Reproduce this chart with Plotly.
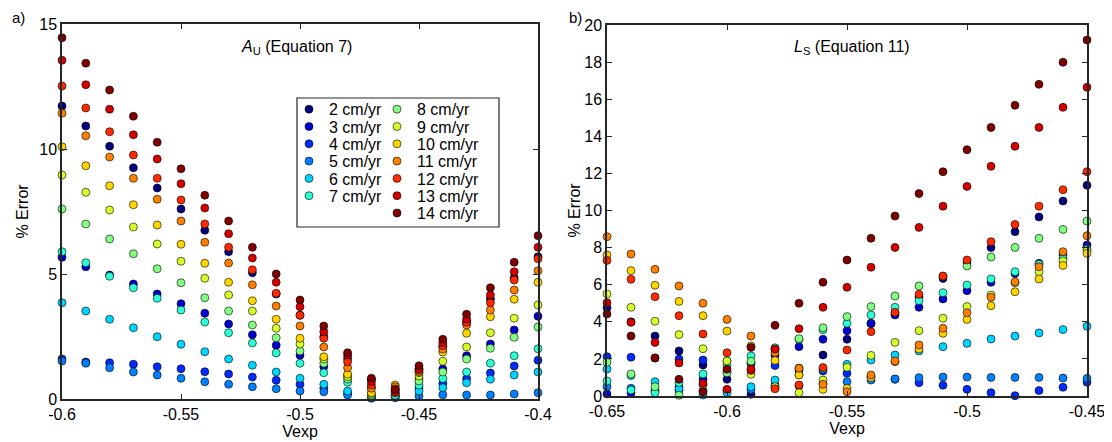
import plotly.graph_objects as go
from plotly.subplots import make_subplots

# plate speed of each series (cm/yr)
speeds = [2, 3, 4, 5, 6, 7, 8, 9, 10, 11, 12, 13, 14]

# Vexp sample points for each panel
vexp_a = [-0.60, -0.59, -0.58, -0.57, -0.56, -0.55, -0.54, -0.53, -0.52, -0.51, -0.50,
          -0.49, -0.48, -0.47, -0.46, -0.45, -0.44, -0.43, -0.42, -0.41, -0.40]
vexp_b = [-0.65, -0.64, -0.63, -0.62, -0.61, -0.60, -0.59, -0.58, -0.57, -0.56, -0.55,
          -0.54, -0.53, -0.52, -0.51, -0.50, -0.49, -0.48, -0.47, -0.46, -0.45]

# panel a: % error of A_U (Equation 7), one list per speed
a2 = [11.72, 10.92, 10.11, 9.25, 8.44, 7.60, 6.75, 5.89, 5.05, 4.20, 3.35, 2.50, 1.62, 0.78, 0.20, 1.20, 2.10, 3.07, 4.00, 4.85, 5.69]
a3 = [5.67, 5.29, 4.96, 4.60, 4.20, 3.81, 3.43, 3.00, 2.57, 2.15, 1.75, 1.29, 0.95, 0.45, 0.15, 0.80, 1.20, 1.73, 2.20, 2.76, 3.31]
a4 = [1.60, 1.48, 1.45, 1.39, 1.29, 1.21, 1.09, 1.00, 0.88, 0.75, 0.59, 0.43, 0.23, 0.05, 0.10, 0.43, 0.62, 0.81, 1.04, 1.32, 1.55]
a5 = [1.52, 1.43, 1.25, 1.08, 0.96, 0.83, 0.69, 0.59, 0.49, 0.41, 0.32, 0.29, 0.16, 0.03, 0.05, 0.12, 0.17, 0.16, 0.16, 0.20, 0.25]
a6 = [3.85, 3.52, 3.19, 2.85, 2.49, 2.19, 1.89, 1.60, 1.35, 1.08, 0.83, 0.59, 0.32, 0.08, 0.08, 0.32, 0.45, 0.65, 0.79, 0.96, 1.08]
a7 = [5.89, 5.45, 4.91, 4.45, 4.03, 3.56, 3.08, 2.65, 2.24, 1.84, 1.43, 1.05, 0.67, 0.12, 0.15, 0.56, 0.82, 1.08, 1.43, 1.73, 2.01]
a8 = [7.60, 7.00, 6.40, 5.81, 5.21, 4.65, 4.05, 3.52, 2.96, 2.45, 1.92, 1.43, 0.80, 0.15, 0.30, 0.72, 1.08, 1.60, 2.03, 2.47, 2.88]
a9 = [8.96, 8.27, 7.56, 6.88, 6.20, 5.51, 4.83, 4.16, 3.52, 2.83, 2.20, 1.60, 0.89, 0.22, 0.40, 0.92, 1.51, 2.08, 2.65, 3.23, 3.76]
a10 = [10.09, 9.33, 8.53, 7.77, 6.96, 6.19, 5.43, 4.67, 3.93, 3.19, 2.43, 1.69, 0.99, 0.25, 0.56, 1.05, 1.88, 2.63, 3.29, 3.99, 4.67]
a11 = [11.43, 10.53, 9.68, 8.83, 7.99, 7.12, 6.27, 5.44, 4.57, 3.72, 2.92, 2.08, 1.25, 0.43, 0.49, 1.10, 2.00, 2.96, 3.56, 4.36, 5.13]
a12 = [12.52, 11.64, 10.69, 9.76, 8.83, 7.96, 7.00, 6.07, 5.17, 4.23, 3.35, 2.43, 1.49, 0.56, 0.40, 1.16, 2.13, 3.07, 3.85, 4.76, 5.61]
a13 = [13.55, 12.57, 11.59, 10.57, 9.60, 8.61, 7.64, 6.61, 5.64, 4.67, 3.69, 2.69, 1.76, 0.69, 0.25, 1.22, 2.25, 3.20, 4.16, 5.09, 6.07]
a14 = [14.45, 13.43, 12.36, 11.31, 10.27, 9.21, 8.15, 7.12, 6.07, 5.00, 3.96, 2.92, 1.85, 0.83, 0.36, 1.33, 2.39, 3.39, 4.45, 5.47, 6.53]

# panel b: % error of L_S (Equation 11), one list per speed
b2 = [4.76, 4.00, 3.23, 2.43, 1.67, 0.90, 0.09, 0.59, 1.38, 2.21, 3.06, 3.90, 4.45, 5.35, 6.34, 7.20, 8.00, 8.86, 9.65, 10.51, 11.36]
b3 = [0.11, 0.16, 0.25, 0.50, 0.90, 1.30, 1.75, 2.20, 2.66, 3.06, 3.52, 3.92, 4.37, 4.78, 5.23, 5.68, 6.13, 6.60, 7.15, 7.60, 8.14]
b4 = [2.12, 2.09, 2.05, 1.99, 1.94, 1.88, 1.78, 1.64, 1.50, 1.35, 1.22, 1.05, 0.90, 0.72, 0.58, 0.36, 0.18, 0.02, 0.29, 0.47, 0.74]
b5 = [0.50, 0.42, 0.35, 0.30, 0.28, 0.30, 0.35, 0.45, 0.55, 0.67, 0.77, 0.86, 0.92, 0.99, 1.02, 1.02, 1.00, 1.00, 1.00, 0.97, 0.95]
b6 = [1.46, 1.10, 0.77, 0.38, 0.05, 0.18, 0.50, 0.86, 1.15, 1.45, 1.71, 1.94, 2.21, 2.43, 2.66, 2.84, 3.07, 3.23, 3.40, 3.58, 3.76]
b7 = [0.81, 0.32, 0.18, 0.72, 1.19, 1.64, 2.16, 2.60, 3.05, 3.57, 3.92, 4.37, 4.78, 5.14, 5.57, 5.98, 6.31, 6.70, 7.10, 7.42, 7.92]
b8 = [1.82, 1.19, 0.50, 0.04, 0.60, 1.25, 1.87, 2.50, 3.09, 3.68, 4.28, 4.82, 5.39, 5.93, 6.45, 7.01, 7.49, 8.01, 8.50, 8.98, 9.43]
b9 = [5.50, 4.78, 4.03, 3.31, 2.55, 1.89, 1.17, 0.50, 0.18, 0.86, 1.55, 2.19, 2.89, 3.52, 4.19, 4.82, 5.44, 6.10, 6.70, 7.28, 7.83]
b10 = [7.60, 6.76, 5.97, 5.10, 4.33, 3.50, 2.70, 1.92, 1.13, 0.36, 0.41, 1.00, 1.85, 2.54, 3.38, 4.13, 4.87, 5.62, 6.31, 7.04, 7.69]
b11 = [8.59, 7.65, 6.83, 5.93, 5.00, 4.13, 3.23, 2.34, 1.49, 0.63, 0.23, 1.13, 1.89, 2.75, 3.65, 4.49, 5.32, 6.16, 6.97, 7.78, 8.64]
b12 = [7.31, 6.29, 5.35, 4.33, 3.34, 2.33, 1.38, 0.39, 0.59, 1.53, 2.48, 3.47, 4.51, 5.48, 6.47, 7.33, 8.32, 9.25, 10.23, 11.12, 12.09]
b13 = [5.03, 3.97, 2.89, 1.78, 0.68, 0.36, 1.46, 2.53, 3.63, 4.78, 5.86, 6.94, 8.01, 9.09, 10.23, 11.30, 12.38, 13.46, 14.48, 15.56, 16.64]
b14 = [4.42, 3.23, 2.05, 0.90, 0.23, 1.44, 2.62, 3.81, 5.00, 6.13, 7.33, 8.50, 9.70, 10.91, 12.09, 13.28, 14.48, 15.67, 16.80, 17.99, 19.19]

err_a = [a2, a3, a4, a5, a6, a7, a8, a9, a10, a11, a12, a13, a14]
err_b = [b2, b3, b4, b5, b6, b7, b8, b9, b10, b11, b12, b13, b14]


def jet(v):
    # matlab style jet colour for a speed between 2 and 14
    t = (v - 2) / 12.0
    def ch(c):
        return int(round(255 * min(max(1.5 - abs(4 * t - c), 0), 1)))
    return "rgb(%d,%d,%d)" % (ch(3), ch(2), ch(1))


# positions below are screen pixels; plot area runs 62..1087 across, 24..399 down
def px_x(p):
    return (p - 62) / 1025.0


def px_y(p):
    return (399 - p) / 375.0


FONT = "Liberation Sans, Arial, Helvetica, sans-serif"
AX = "#262626"
PAGE_PAD = 8  # the page body keeps its default 8px margin

fig = make_subplots(rows=1, cols=2)

# one small legend per entry so the rows can sit as tight as in the figure
legend_layout = {}
for i, (s, ya, yb) in enumerate(zip(speeds, err_a, err_b)):
    lg = "legend" if i == 0 else "legend%d" % (i + 1)
    col, row = (0, i) if s <= 7 else (1, i - 6)
    legend_layout[lg] = dict(x=px_x(289 + 88 * col), y=px_y(109.3 + 17.3 * row),
                             xanchor="left", yanchor="middle", bgcolor="rgba(0,0,0,0)",
                             borderwidth=0, font=dict(size=16))
    mk = dict(size=8, color=jet(s), line=dict(color="black", width=0.6))
    fig.add_trace(go.Scatter(x=vexp_a, y=ya, mode="markers", marker=mk, cliponaxis=False,
                             name="%d cm/yr" % s, legend=lg),
                  row=1, col=1)
    fig.add_trace(go.Scatter(x=vexp_b, y=yb, mode="markers", marker=mk, cliponaxis=False,
                             name="%d cm/yr" % s, showlegend=False),
                  row=1, col=2)

axis_style = dict(showline=True, linecolor=AX, linewidth=1.5, mirror="ticks", ticks="inside",
                  ticklen=5, tickwidth=1.2, tickcolor=AX, showgrid=False, zeroline=False,
                  automargin=False, tickfont=dict(size=16, color="black"))

fig.update_xaxes(**axis_style)
fig.update_yaxes(**axis_style)

fig.update_layout(
    xaxis=dict(domain=[0, px_x(538)], range=[-0.6, -0.4],
               tickvals=[-0.6, -0.55, -0.5, -0.45, -0.4],
               ticktext=["-0.6", "-0.55", "-0.5", "-0.45", "-0.4"],
               title=dict(text="Vexp", standoff=0, font=dict(size=16))),
    yaxis=dict(domain=[0, 1], range=[0, 15], tickvals=[0, 5, 10, 15],
               title=dict(text="% Error", standoff=7, font=dict(size=16))),
    xaxis2=dict(domain=[px_x(607), 1], range=[-0.65, -0.45],
                tickvals=[-0.65, -0.6, -0.55, -0.5, -0.45],
                ticktext=["-0.65", "-0.6", "-0.55", "-0.5", "-0.45"],
                title=dict(text="Vexp", standoff=0, font=dict(size=16))),
    yaxis2=dict(domain=[px_y(396), px_y(25)], range=[0, 20],
                tickvals=[0, 2, 4, 6, 8, 10, 12, 14, 16, 18, 20],
                title=dict(text="% Error", standoff=0, font=dict(size=16))),
)

fig.update_layout(
    width=1112 - PAGE_PAD, height=442 - PAGE_PAD,
    margin=dict(l=62 - PAGE_PAD, r=25, t=24 - PAGE_PAD, b=43),
    plot_bgcolor="white", paper_bgcolor="white",
    font=dict(family=FONT, size=16, color="black"),
    shapes=[dict(type="rect", xref="paper", yref="paper",
                 x0=px_x(297), x1=px_x(499), y0=px_y(227), y1=px_y(98),
                 line=dict(color=AX, width=1.2), fillcolor="white", layer="below")],
    annotations=[
        dict(text="<i>A</i><sub>U</sub> (Equation 7)", x=px_x(296), y=px_y(47),
             xanchor="center", yanchor="middle",
             xref="paper", yref="paper", showarrow=False, font=dict(size=16)),
        dict(text="<i>L</i><sub>S</sub> (Equation 11)", x=px_x(852), y=px_y(47),
             xanchor="center", yanchor="middle",
             xref="paper", yref="paper", showarrow=False, font=dict(size=16)),
        dict(text="a)", x=px_x(10), y=px_y(17), xref="paper", yref="paper",
             xanchor="left", yanchor="middle", showarrow=False, font=dict(size=15)),
        dict(text="b)", x=px_x(567), y=px_y(17), xref="paper", yref="paper",
             xanchor="left", yanchor="middle", showarrow=False, font=dict(size=15)),
    ],
    **legend_layout,
)

fig.write_html("out.html")
